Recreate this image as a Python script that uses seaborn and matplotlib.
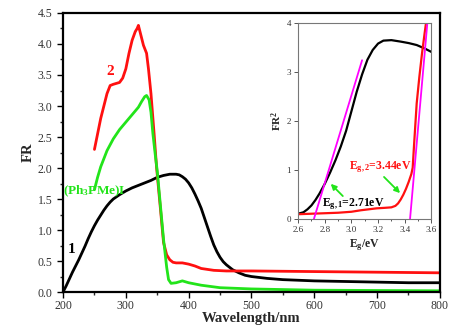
import numpy as np
import pandas as pd
import matplotlib
matplotlib.use("Agg")
import matplotlib.pyplot as plt
import seaborn as sns

# ---- main panel data (FR vs wavelength) ----
wl_1 = [200, 205, 210, 215, 220, 225, 230, 235, 240, 245, 250, 255, 260, 265, 270, 275, 280, 290,
        300, 310, 320, 330, 340, 350, 360, 370, 380, 385, 390, 395, 400, 405, 410, 415, 420, 425,
        430, 435, 440, 445, 450, 455, 460, 470, 480, 490, 500, 525, 550, 600, 650, 700, 750, 800]
fr_1 = [0.0, 0.1, 0.21, 0.32, 0.42, 0.52, 0.63, 0.74, 0.86, 0.97, 1.07, 1.16, 1.24, 1.32, 1.39, 1.45,
        1.5, 1.57, 1.63, 1.68, 1.72, 1.76, 1.8, 1.85, 1.88, 1.9, 1.9, 1.89, 1.86, 1.82, 1.76, 1.68,
        1.58, 1.47, 1.35, 1.2, 1.05, 0.9, 0.76, 0.65, 0.56, 0.49, 0.44, 0.36, 0.31, 0.27, 0.25, 0.22,
        0.2, 0.18, 0.17, 0.16, 0.15, 0.15]

wl_2 = [250, 255, 260, 265, 270, 275, 280, 290, 295, 300, 305, 310, 315, 318, 320, 322, 325, 328,
        333, 336, 340, 345, 349, 355, 360, 365, 370, 375, 380, 390, 400, 410, 420, 440, 460, 500,
        600, 700, 800]
fr_2 = [2.3, 2.55, 2.8, 3.0, 3.2, 3.33, 3.35, 3.38, 3.45, 3.6, 3.85, 4.06, 4.2, 4.25, 4.3, 4.22, 4.1, 3.98,
        3.85, 3.6, 3.2, 2.55, 2.0, 1.35, 0.8, 0.6, 0.52, 0.48, 0.47, 0.47, 0.45, 0.42, 0.38, 0.35, 0.34,
        0.34, 0.33, 0.32, 0.31]

wl_3 = [250, 255, 260, 270, 280, 290, 300, 310, 320, 325, 330, 333, 337, 340, 343, 347, 350, 355,
        360, 365, 368, 372, 380, 390, 400, 420, 450, 500, 600, 800]
fr_3 = [1.65, 1.85, 2.02, 2.28, 2.47, 2.62, 2.74, 2.86, 2.98, 3.07, 3.15, 3.17, 3.1, 2.9, 2.56, 2.2,
        1.95, 1.4, 0.85, 0.4, 0.2, 0.14, 0.15, 0.18, 0.15, 0.11, 0.07, 0.05, 0.03, 0.02]

main_xticks = [200, 300, 400, 500, 600, 700, 800]
main_yticks = [0.0, 0.5, 1.0, 1.5, 2.0, 2.5, 3.0, 3.5, 4.0, 4.5]

# ---- inset data (FR^2 vs Eg) ----
eg_1 = [2.6, 2.64, 2.67, 2.7, 2.73, 2.76, 2.8, 2.84, 2.88, 2.92, 2.96, 3.0, 3.04, 3.08, 3.12, 3.16,
        3.2, 3.24, 3.3, 3.37, 3.43, 3.49, 3.55, 3.6]
fr2_1 = [0.11, 0.14, 0.2, 0.28, 0.39, 0.52, 0.72, 0.95, 1.2, 1.48, 1.8, 2.2, 2.6, 2.95, 3.25, 3.45,
         3.58, 3.64, 3.65, 3.62, 3.59, 3.55, 3.48, 3.41]

eg_2 = [2.6, 2.7, 2.8, 2.9, 3.0, 3.07, 3.13, 3.19, 3.25, 3.3, 3.33, 3.35, 3.37, 3.39, 3.41, 3.43,
        3.45, 3.46, 3.47, 3.49, 3.51, 3.53, 3.55, 3.56]
fr2_2 = [0.1, 0.11, 0.12, 0.13, 0.15, 0.18, 0.2, 0.22, 0.23, 0.24, 0.27, 0.32, 0.4, 0.5, 0.62, 0.76,
         0.92, 1.05, 1.5, 2.36, 2.9, 3.38, 3.8, 4.0]

fit_1_x = [2.718, 3.08]
fit_1_y = [0.0, 3.24]
fit_2_x = [3.44, 3.57]
fit_2_y = [0.0, 4.0]

inset_xticks = [2.6, 2.8, 3.0, 3.2, 3.4, 3.6]
inset_yticks = [0, 1, 2, 3, 4]

sns.set_style("ticks")
plt.rcParams['font.family'] = ['Liberation Serif', 'DejaVu Serif']
plt.rcParams['mathtext.fontset'] = 'custom'
plt.rcParams['mathtext.rm'] = 'Liberation Serif'
plt.rcParams['mathtext.bf'] = 'Liberation Serif:bold'
plt.rcParams['mathtext.it'] = 'Liberation Serif:italic'

fig = plt.figure(figsize=(4.74, 3.33), dpi=100)
ax = fig.add_axes([0.133, 0.123, 0.795, 0.838])

df1 = pd.DataFrame({'x': wl_1, 'y': fr_1})
df2 = pd.DataFrame({'x': wl_2, 'y': fr_2})
df3 = pd.DataFrame({'x': wl_3, 'y': fr_3})
sns.lineplot(data=df1, x='x', y='y', ax=ax, color='black', lw=2.0, sort=False)
sns.lineplot(data=df2, x='x', y='y', ax=ax, color='#ff1010', lw=2.0, sort=False)
sns.lineplot(data=df3, x='x', y='y', ax=ax, color='#22e41a', lw=2.0, sort=False)

ax.set_xlim(200, 800)
ax.set_ylim(0, 4.5)
ax.set_xticks(main_xticks)
ax.set_xticklabels([str(v) for v in main_xticks])
ax.set_yticks(main_yticks)
ax.set_yticklabels([f"{v:.1f}" for v in main_yticks])
ax.set_xticks(np.arange(250, 800, 100), minor=True)
ax.set_yticks(np.arange(0.25, 4.5, 0.5), minor=True)
ax.tick_params(axis='both', which='major', direction='out', length=4, width=1.0,
               labelsize=8.5, colors='black', labelcolor='#333333')
ax.tick_params(axis='x', which='major', pad=1.5)
ax.tick_params(axis='both', which='minor', direction='out', length=2.5, width=1.0)
for s in ax.spines.values():
    s.set_linewidth(1.6)
    s.set_color('black')
    s.set_visible(True)
ax.set_xlabel('Wavelength/nm', fontsize=10.5, fontweight='bold')
ax.xaxis.set_label_coords(0.5, -0.072)
ax.set_ylabel('FR', fontsize=10.5, fontweight='bold', labelpad=2)

ax.text(275, 3.55, '2', color='#ff1010', fontsize=11, fontweight='bold', ha='center', va='center')
ax.text(214, 0.68, '1', color='black', fontsize=11, fontweight='bold', ha='center', va='center')
ax.text(200, 1.62, r'(Ph$_\mathbf{3}$PMe)I', color='#22e41a', fontsize=9.5, fontweight='bold',
        ha='left', va='center')

# ---- inset ----
ins = fig.add_axes([0.629, 0.342, 0.281, 0.589])
dfi1 = pd.DataFrame({'x': eg_1, 'y': fr2_1})
dfi2 = pd.DataFrame({'x': eg_2, 'y': fr2_2})
dff1 = pd.DataFrame({'x': fit_1_x, 'y': fit_1_y})
dff2 = pd.DataFrame({'x': fit_2_x, 'y': fit_2_y})
sns.lineplot(data=dfi1, x='x', y='y', ax=ins, color='black', lw=1.6, sort=False)
sns.lineplot(data=dfi2, x='x', y='y', ax=ins, color='#ff1010', lw=1.6, sort=False)
sns.lineplot(data=dff1, x='x', y='y', ax=ins, color='#ff00ff', lw=1.3, sort=False)
sns.lineplot(data=dff2, x='x', y='y', ax=ins, color='#ff00ff', lw=1.3, sort=False)
ins.set_xlim(2.6, 3.6)
ins.set_ylim(0, 4)
ins.set_xticks(inset_xticks)
ins.set_xticklabels([f"{v:.1f}" for v in inset_xticks])
ins.set_yticks(inset_yticks)
ins.set_yticklabels([str(v) for v in inset_yticks])
ins.set_xticks(np.arange(2.7, 3.6, 0.2), minor=True)
ins.tick_params(axis='both', which='major', direction='out', length=3, width=0.7,
                labelsize=6.5, colors='#555555', labelcolor='#333333', pad=2)
ins.tick_params(axis='both', which='minor', direction='out', length=1.5, width=0.7, colors='#555555')
for s in ins.spines.values():
    s.set_linewidth(0.8)
    s.set_color('#777777')
    s.set_visible(True)
ins.set_xlabel(r'$\mathbf{E_g}$/eV', fontsize=8.5, fontweight='bold', labelpad=2)
ins.set_ylabel(r'FR$^\mathbf{2}$', fontsize=8, fontweight='bold', labelpad=2)

ins.annotate('', xy=(2.83, 0.76), xytext=(2.95, 0.43),
             arrowprops=dict(arrowstyle='-|>', color='#22e41a', lw=1.3, mutation_scale=8))
ins.annotate('', xy=(3.38, 0.49), xytext=(3.23, 0.9),
             arrowprops=dict(arrowstyle='-|>', color='#22e41a', lw=1.3, mutation_scale=8))
ins.text(2.78, 0.3, r'$\mathbf{E_{g,1}}$=2.71eV', color='black', fontsize=8.5, fontweight='bold',
         ha='left', va='center')
ins.text(2.98, 1.06, r'$\mathbf{E_{g,2}}$=3.44eV', color='#ff1010', fontsize=8.5, fontweight='bold',
         ha='left', va='center')

fig.savefig('out.png', dpi=100, facecolor='white')
